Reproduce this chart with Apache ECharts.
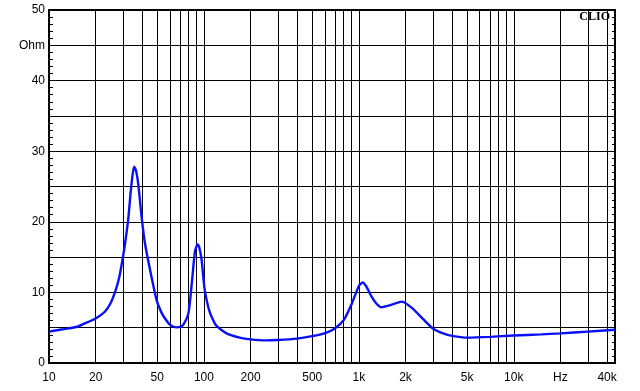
<!DOCTYPE html>
<html>
<head>
<meta charset="utf-8">
<script src="https://cdn.jsdelivr.net/npm/echarts@6/dist/echarts.min.js"></script>
<style>html,body{margin:0;padding:0;background:#fff;}#c{width:640px;height:391px;}</style>
</head>
<body>
<div id="c"></div>
<script>
// Frequencies (Hz) and impedance (Ohm)
const freqs = [10,12,15,17,20,23,25,27,28.5,30,31,32.5,33.7,34.8,35.5,36.5,37.7,39.6,41.6,44.9,49.5,53.3,57,60.5,66.5,70,73.5,79.5,83.5,87.5,91,93,96.6,101,109,120,140,170,200,250,300,400,500,600,700,800,900,1000,1057,1120,1200,1300,1400,1600,1900,2200,2600,3000,3500,4000,5000,7000,10000,15000,20000,30000,45000];
const ohms  = [4.45,4.75,5.1,5.6,6.3,7.3,8.5,10.4,12.3,15,17,20.5,24.3,27,27.8,27.2,25.3,20.7,17,13.2,8.9,7.1,6.1,5.4,5.05,5.1,5.4,7.1,11.3,15.8,16.8,16.5,14.6,10.5,7.2,5.3,4.2,3.6,3.35,3.2,3.25,3.45,3.8,4.2,4.9,6.1,8.4,10.9,11.4,10.8,9.5,8.4,7.9,8.2,8.7,7.8,6.2,4.9,4.2,3.85,3.6,3.7,3.9,4.05,4.2,4.45,4.7];

// Axis definitions
const freqMin = 10;
const freqMax = 45000;
const gridFreqs = [20,30,40,50,60,70,80,90,100,200,300,400,500,600,700,800,900,1000,2000,3000,4000,5000,6000,7000,8000,9000,10000,20000,30000,40000];
const labelFreqs = [10,20,50,100,200,500,1000,2000,5000,10000,20000,40000];
const labelTexts = ['10','20','50','100','200','500','1k','2k','5k','10k','Hz','40k'];
const yLabelValues = [0,10,20,30,40,45,50];
const yLabelTexts = ['0','10','20','30','40','Ohm','50'];

const L = Math.log10;
const curve = freqs.map((f, i) => [L(f), ohms[i]]);

const chart = echarts.init(document.getElementById('c'), null, {renderer: 'canvas'});
const font = 'Liberation Sans, Arial, sans-serif';

chart.setOption({
  animation: false,
  backgroundColor: '#fff',
  grid: {left: 49, right: 25, top: 10, bottom: 28, show: true, borderColor: '#000', borderWidth: 2, backgroundColor: 'transparent'},
  xAxis: {
    type: 'value', min: L(freqMin), max: L(freqMax),
    axisLine: {show: false}, axisTick: {show: false}, splitLine: {show: false},
    axisLabel: {
      customValues: labelFreqs.map(L),
      margin: 9, color: '#000', fontFamily: font, fontSize: 12,
      formatter: function (v) {
        for (let i = 0; i < labelFreqs.length; i++) {
          if (Math.abs(L(labelFreqs[i]) - v) < 1e-6) return labelTexts[i];
        }
        return '';
      }
    }
  },
  yAxis: [{
    type: 'value', min: 0, max: 50, interval: 5, position: 'left',
    axisLine: {show: false},
    axisTick: {show: true, inside: true, length: 4, lineStyle: {color: '#000'}},
    minorTick: {show: true, splitNumber: 5, length: 4, lineStyle: {color: '#000', width: 1}},
    splitLine: {show: true, lineStyle: {color: '#000', width: 1}},
    axisLabel: {
      color: '#000', fontFamily: font, fontSize: 12, margin: 4,
      formatter: function (v) {
        const i = yLabelValues.indexOf(Math.round(v));
        return i >= 0 ? yLabelTexts[i] : '';
      }
    }
  }, {
    type: 'value', min: 0, max: 50, interval: 5, position: 'right',
    axisLine: {show: false},
    axisTick: {show: true, inside: true, length: 3, lineStyle: {color: '#000'}},
    minorTick: {show: true, splitNumber: 5, length: 3, lineStyle: {color: '#000', width: 1}},
    splitLine: {show: false},
    axisLabel: {show: false}
  }],
  series: [{
    type: 'line', data: [], z: 1, silent: true,
    markLine: {
      silent: true, symbol: ['none', 'none'], animation: false,
      label: {show: false},
      lineStyle: {color: '#000', width: 1, type: 'solid'},
      data: gridFreqs.map(f => ({xAxis: L(f)}))
    }
  }, {
    type: 'line', data: curve, z: 5, showSymbol: false, smooth: 0.2,
    lineStyle: {color: '#0a10f5', width: 2.4},
    itemStyle: {color: '#0a10f5'}
  }],
  graphic: [{
    type: 'text', x: 610, y: 11, z: 100,
    style: {text: 'CLIO', align: 'right', verticalAlign: 'top', font: 'bold 12px "Liberation Serif", "DejaVu Serif", serif', fill: '#000'}
  }]
});
</script>
</body>
</html>
